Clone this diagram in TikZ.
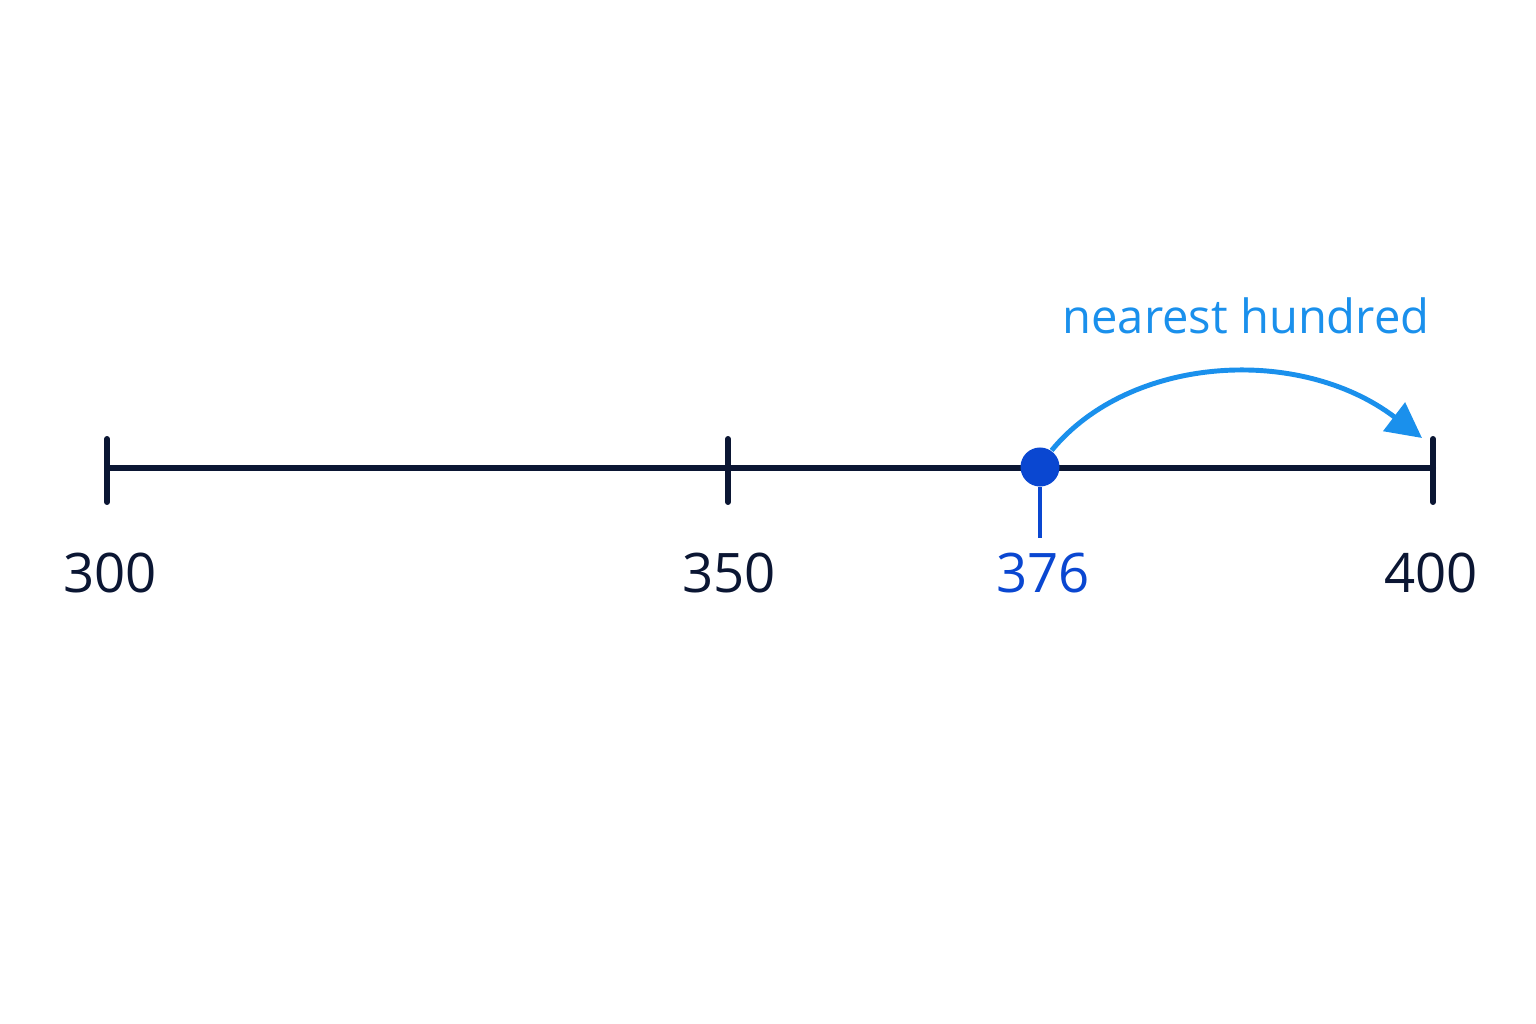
\documentclass[tikz,border=0pt]{standalone}
\usepackage{fontspec}
\setmainfont{Open Sans}
\usetikzlibrary{arrows.meta}
\definecolor{navy}{HTML}{0B1633}
\definecolor{dotblue}{HTML}{0A47D1}
\definecolor{skyblue}{HTML}{1A90EC}
\tikzset{
  numlabel/.style={font=\fontsize{15.5}{18}\selectfont,text=navy},
  ticmark/.style={navy,line width=1.7pt,line cap=round}
}
\begin{document}
\begin{tikzpicture}[x=0.01cm,y=-0.01cm]
  \fill[white] (0,0) rectangle (1536,1024);
  \useasboundingbox (0,0) rectangle (1536,1024);
  \draw[ticmark] (107,468) -- (1433,468);
  \foreach \x in {107,728,1433}
    \draw[ticmark] (\x,439) -- (\x,502);
  \node[numlabel] (n300) at (110,573) {300};
  \node[numlabel] (n350) at (729,573) {350};
  \node[numlabel] (n400) at (1431,573) {400};
  \node[circle,fill=dotblue,inner sep=0pt,minimum size=0.39cm] (pt) at (1040,467) {};
  \coordinate (stem) at (1040,538);
  \draw[dotblue,line width=1pt] (pt.south) -- (stem);
  \node[numlabel,text=dotblue] (n376) at (1043,573) {376};
  \coordinate (tip) at (1422,438);
  \draw[skyblue,line width=1.4pt,-{Triangle[length=10pt,width=10pt]}]
    (pt.55) .. controls (1130,355) and (1300,345) .. (tip);
  \node[font=\fontsize{13.4}{16}\selectfont,text=skyblue] (lbl) at (1246,316) {nearest hundred};
\end{tikzpicture}
\end{document}
